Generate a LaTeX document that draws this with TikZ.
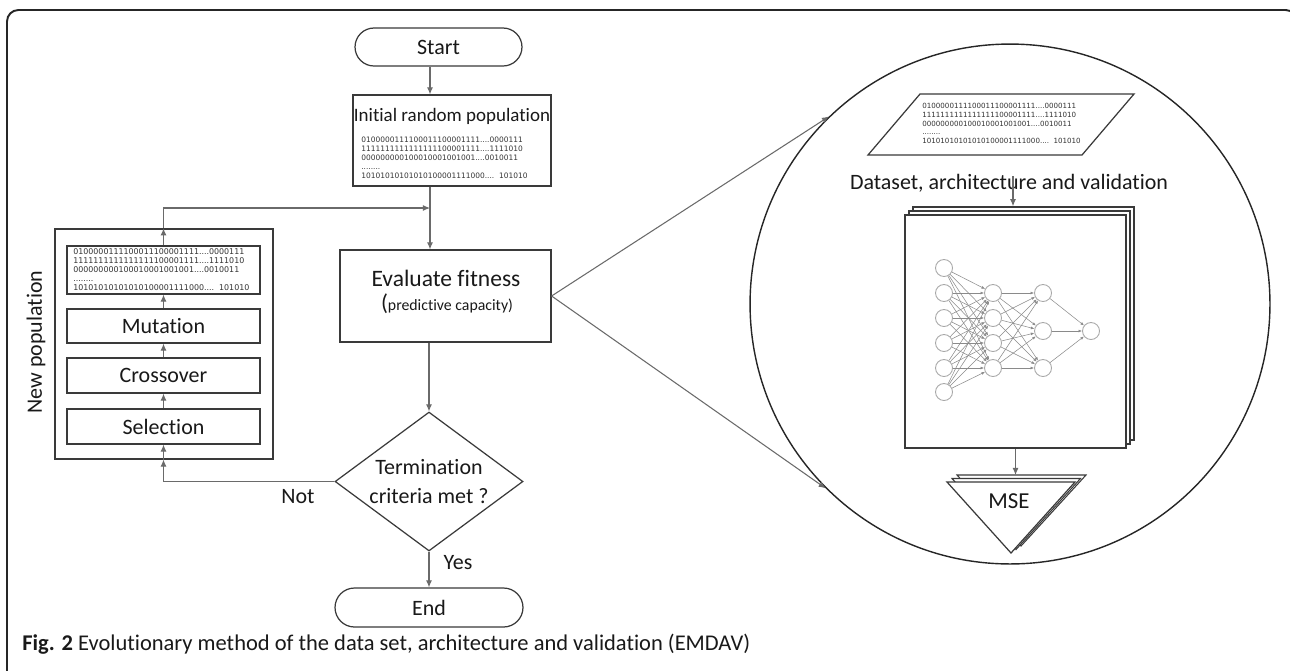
\documentclass[tikz,border=0pt]{standalone}
\usepackage{fontspec}
\setmainfont{Carlito}[Ligatures=NoCommon]
\newfontfamily\binfont{DejaVu Sans}
\usetikzlibrary{arrows.meta,shapes.geometric,shapes.misc}
\definecolor{boxc}{HTML}{3A3A3A}
\definecolor{linec}{HTML}{6A6A6A}
\definecolor{nnc}{HTML}{A8A8A8}
\definecolor{nnline}{HTML}{8A8A8A}
\newcommand{\bintext}{0100000111100011100001111....0000111\\1111111111111111100001111....1111010\\000000000100010001001001....0010011\\........\\10101010101010100001111000....\ \ 101010}
\begin{document}
\begin{tikzpicture}[x=0.02cm,y=-0.02cm,
  box/.style={draw=boxc, line width=0.7pt, fill=white, inner sep=0},
  shp/.style={draw=boxc, line width=0.7pt, fill=white},
  lbl/.style={font=\fontsize{12.5}{14}\selectfont, text=black!90},
  conn/.style={draw=linec, line width=0.6pt},
  arr/.style={conn, -{Latex[length=4pt,width=3.4pt]}},
  binary/.style={font=\binfont\fontsize{4.25}{5.1}\selectfont, align=left, inner sep=0, text=black!80},
  nn/.style={circle, draw=nnc, line width=0.5pt, minimum size=0.34cm, inner sep=0, fill=white},
  nnl/.style={draw=nnline, line width=0.3pt, -{Latex[length=2pt,width=1.6pt]}}
]
\clip (0,0) rectangle (1290,670);
\fill[white] (0,0) rectangle (1290,670);
% frame
\draw[line width=1.1pt, black!85, rounded corners=6.5pt] (7,700) -- (7,10) -- (1297,10) -- (1297,700);

\coordinate (axis) at (430,0);
\coordinate (join) at (430,208);

% main flow
\node[box, rounded rectangle, minimum width=3.34cm, minimum height=0.76cm, lbl] (start) at (438.5,47) {Start};
\node[box, minimum width=3.96cm, minimum height=1.82cm] (init) at (452,140.5) {};
\node[lbl, font=\fontsize{10.8}{12}\selectfont] (initt) at (452,116) {Initial random population};
\node[binary, anchor=west] (initb) at (361,158) {\bintext};

\node[box, minimum width=4.22cm, minimum height=1.84cm] (eval) at (445.5,296) {};
\node[lbl, font=\fontsize{13.4}{14}\selectfont] (evalt) at (446,278) {Evaluate fitness};
\node[inner sep=0, text=black!90] (evals) at (447,304) {{\fontsize{13}{14}\selectfont(}{\fontsize{9}{10}\selectfont predictive capacity)}};

\node[box, diamond, aspect=1.35, minimum width=3.76cm, minimum height=2.78cm, align=center, font=\fontsize{12.5}{17}\selectfont, text=black!90] (term) at (429,481.5) {Termination\\criteria met ?};
\node[box, rounded rectangle, minimum width=3.76cm, minimum height=0.78cm, lbl] (end) at (429,607.5) {End};
\node[lbl] (not) at (298,497) {Not};
\node[lbl] (yes) at (458,563) {Yes};

% new population
\node[box, minimum width=4.36cm, minimum height=4.6cm] (npop) at (164,344) {};
\node[box, minimum width=3.86cm, minimum height=0.96cm] (bin) at (163.5,270) {};
\node[binary, anchor=west, font=\binfont\fontsize{4.5}{5.1}\selectfont] (binb) at (73,269.5) {\bintext};
\node[box, minimum width=3.86cm, minimum height=0.68cm, lbl] (mut) at (163.5,326) {Mutation};
\node[box, minimum width=3.86cm, minimum height=0.70cm, lbl] (cross) at (163.5,375.5) {Crossover};
\node[box, minimum width=3.86cm, minimum height=0.70cm, lbl] (sel) at (163.5,426.5) {Selection};
\node[lbl, rotate=90] (nplbl) at (36,342) {New population};

% connectors
\draw[arr] (start.south -| axis) -- (init.north -| axis);
\draw[conn] (init.south -| axis) -- (join);
\draw[arr] (join) -- (eval.north -| axis);
\draw[arr] (eval.south -| term.north) -- (term.north);
\draw[arr] (term.south) -- (end.north);
\draw[arr] (term.west) -| (sel.south |- npop.south);
\draw[arr] (sel.south |- npop.south) -- (sel.south);
\draw[arr] (sel.north) -- (cross.south);
\draw[arr] (cross.north) -- (mut.south);
\draw[arr] (mut.north) -- (bin.south);
\draw[arr] (bin.north) -- (bin.north |- npop.north);
\draw[arr] (bin.north |- npop.north) |- (join);

% zoom circle
\node[circle, draw=black!85, line width=0.8pt, minimum size=10.4cm, inner sep=0] (circ) at (1010,304) {};
\draw[arr] (eval.east) -- (circ.134.4);
\draw[arr] (eval.east) -- (circ.225.6);

% dataset parallelogram
\coordinate (p1) at (920,94);
\coordinate (p2) at (1134,94);
\coordinate (p3) at (1082,155);
\coordinate (p4) at (868,155);
\draw[shp] (p1) -- (p2) -- (p3) -- (p4) -- cycle;
\node[binary, anchor=west, font=\binfont\fontsize{4.05}{5.0}\selectfont] (dsb) at (922,123.5) {\bintext};
\node[lbl] (dslbl) at (1009,183) {Dataset, architecture and validation};
\coordinate (dsarr) at (1013,176);

% stacked pages
\node[box, line width=0.9pt, minimum width=4.42cm, minimum height=4.66cm] (pg3) at (1023.5,323.5) {};
\node[box, line width=0.9pt, minimum width=4.42cm, minimum height=4.66cm] (pg2) at (1019.5,327.5) {};
\node[box, line width=0.9pt, minimum width=4.42cm, minimum height=4.66cm] (pg1) at (1015.5,331.5) {};
\draw[arr] (dsarr) -- (dsarr |- pg3.north);

% neural network
\foreach \i/\y in {1/268,2/293,3/318,4/343,5/368,6/392} \node[nn] (a\i) at (944,\y) {};
\foreach \i/\y in {1/293,2/318,3/343,4/368} \node[nn] (b\i) at (993,\y) {};
\foreach \i/\y in {1/293,2/331,3/368} \node[nn] (c\i) at (1043,\y) {};
\node[nn] (d1) at (1091,331) {};
\foreach \i in {1,...,6} \foreach \j in {1,...,4} \draw[nnl] (a\i) -- (b\j);
\foreach \i in {1,...,4} \foreach \j in {1,...,3} \draw[nnl] (b\i) -- (c\j);
\foreach \i in {1,...,3} \draw[nnl] (c\i) -- (d1);

% MSE stack
\coordinate (t3a) at (957,475); \coordinate (t3b) at (1086,475); \coordinate (t3c) at (1021,546);
\coordinate (t2a) at (952,478.5); \coordinate (t2b) at (1080.5,478.5); \coordinate (t2c) at (1016,549.5);
\coordinate (t1a) at (947,482); \coordinate (t1b) at (1075,482); \coordinate (t1c) at (1011,553);
\draw[shp, line width=0.6pt] (t3a) -- (t3b) -- (t3c) -- cycle;
\draw[shp, line width=0.6pt] (t2a) -- (t2b) -- (t2c) -- cycle;
\draw[shp] (t1a) -- (t1b) -- (t1c) -- cycle;
\node[lbl, font=\fontsize{13}{14}\selectfont] (mse) at (1009,501) {MSE};
\draw[arr] (pg1.south) -- (pg1.south |- t3a);

% caption
\node[anchor=base west, inner sep=0, font=\fontsize{12.8}{14}\selectfont, text=black!90] (cap) at (22,650) {\textbf{Fig. 2} Evolutionary method of the data set, architecture and validation (EMDAV)};
\end{tikzpicture}
\end{document}
